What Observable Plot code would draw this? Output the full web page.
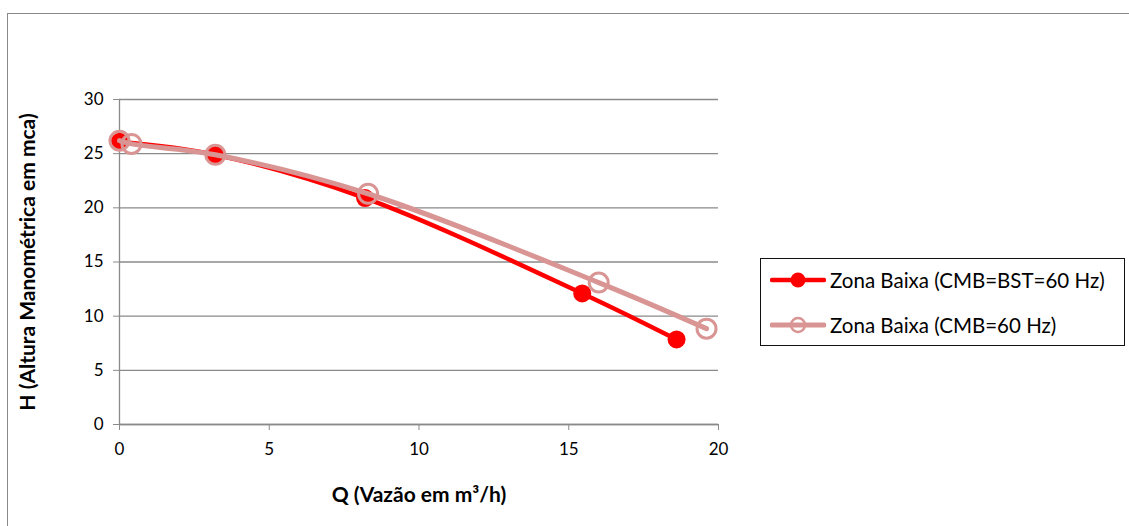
<!DOCTYPE html>
<html>
<head>
<meta charset="utf-8">
<script src="https://cdn.jsdelivr.net/npm/d3@7"></script>
<script src="https://cdn.jsdelivr.net/npm/@observablehq/plot@0.6"></script>
<style>
  html, body { margin: 0; padding: 0; background: #fff; }
  #wrap { position: relative; width: 1129px; height: 526px; overflow: hidden; font-family: Lato, "Open Sans", sans-serif; }
  #frame { position: absolute; left: 7px; top: 13px; width: 1200px; height: 600px; border-top: 1.5px solid #8a8a8a; border-left: 1.5px solid #8a8a8a; }
  #legend { position: absolute; left: 760px; top: 258px; width: 365px; height: 88px; border: 1.3px solid #111; box-sizing: border-box; }
  .row { position: absolute; left: 9px; display: flex; align-items: center; font-size: 20.5px; color: #000; white-space: nowrap; }
  .row svg { margin-right: 4px; }
</style>
</head>
<body>
<div id="wrap">
  <div id="frame"></div>
  <div id="chart" style="position:absolute;left:0;top:0;"></div>
  <div id="legend"></div>
</div>
<script>
// Series 1: Zona Baixa (CMB=BST=60 Hz)
const q1 = [0, 3.2, 8.2, 15.45, 18.6];
const h1 = [26.1, 24.9, 20.9, 12.1, 7.85];
// Series 2: Zona Baixa (CMB=60 Hz)
const q2 = [0, 0.4, 3.2, 8.3, 16.0, 19.6];
const h2 = [26.2, 25.9, 24.9, 21.3, 13.1, 8.85];

const seriesNames = ["Zona Baixa (CMB=BST=60 Hz)", "Zona Baixa (CMB=60 Hz)"];
const seriesColors = ["#FF0000", "#D99594"];
const xTicks = [0, 5, 10, 15, 20];
const yTicks = [0, 5, 10, 15, 20, 25, 30];
const xTitle = "Q (Vazão em m³/h)";
const yTitle = "H (Altura Manométrica em mca)";

const s1 = q1.map((q, i) => ({q, h: h1[i]}));
const s2 = q2.map((q, i) => ({q, h: h2[i]}));

const chart = Plot.plot({
  width: 1129,
  height: 526,
  marginLeft: 119,
  marginRight: 411,
  marginTop: 99,
  marginBottom: 102,
  style: {fontFamily: "Lato, 'Open Sans', sans-serif", fontSize: "17px", color: "#000", background: "transparent", overflow: "visible"},
  x: {domain: [0, 20]},
  y: {domain: [0, 30]},
  marks: [
    Plot.gridY(yTicks, {stroke: "#8a8a8a", strokeOpacity: 1, strokeWidth: 1.3}),
    Plot.axisY(yTicks, {tickSize: 6, tickPadding: 10, stroke: "#8a8a8a", strokeOpacity: 1, fill: "#000", fontSize: 17,
      label: yTitle, labelAnchor: "center", labelOffset: 99, labelArrow: "none"}),
    Plot.axisX(xTicks, {tickSize: 6, tickPadding: 12, stroke: "#8a8a8a", strokeOpacity: 1, fill: "#000", fontSize: 17,
      label: xTitle, labelAnchor: "center", labelOffset: 77, labelArrow: "none"}),
    Plot.ruleX([0], {y1: 0, y2: 30, stroke: "#8a8a8a", strokeWidth: 1.3}),
    Plot.ruleY([0], {stroke: "#8a8a8a", strokeWidth: 1.3}),
    Plot.line(s1, {x: "q", y: "h", curve: "catmull-rom", stroke: seriesColors[0], strokeWidth: 4.5}),
    Plot.dot(s1, {x: "q", y: "h", r: 9, fill: seriesColors[0], stroke: "none"}),
    Plot.line(s2, {x: "q", y: "h", curve: "catmull-rom", stroke: seriesColors[1], strokeWidth: 5}),
    Plot.dot(s2, {x: "q", y: "h", r: 9.5, fill: "none", stroke: seriesColors[1], strokeWidth: 3})
  ]
});
// bold axis titles only
chart.querySelectorAll("g[aria-label='y-axis label'] text, g[aria-label='x-axis label'] text").forEach(t => {
  t.setAttribute("font-weight", "bold");
  t.setAttribute("font-size", "21");
});
document.getElementById("chart").appendChild(chart);

// legend
const legend = document.getElementById("legend");
seriesNames.forEach((name, i) => {
  const row = document.createElement("div");
  row.className = "row";
  row.style.top = (i === 0 ? 8 : 53) + "px";
  const filled = i === 0;
  row.innerHTML = `<svg width="56" height="26"><line x1="2" y1="13" x2="54" y2="13" stroke="${seriesColors[i]}" stroke-width="${filled ? 4.5 : 5}" stroke-linecap="round"/>` +
    (filled ? `<circle cx="28" cy="13" r="7.5" fill="${seriesColors[i]}"/>` : `<circle cx="28" cy="13" r="7" fill="none" stroke="${seriesColors[i]}" stroke-width="2.5"/>`) +
    `</svg><span>${name}</span>`;
  legend.appendChild(row);
});
</script>
</body>
</html>
